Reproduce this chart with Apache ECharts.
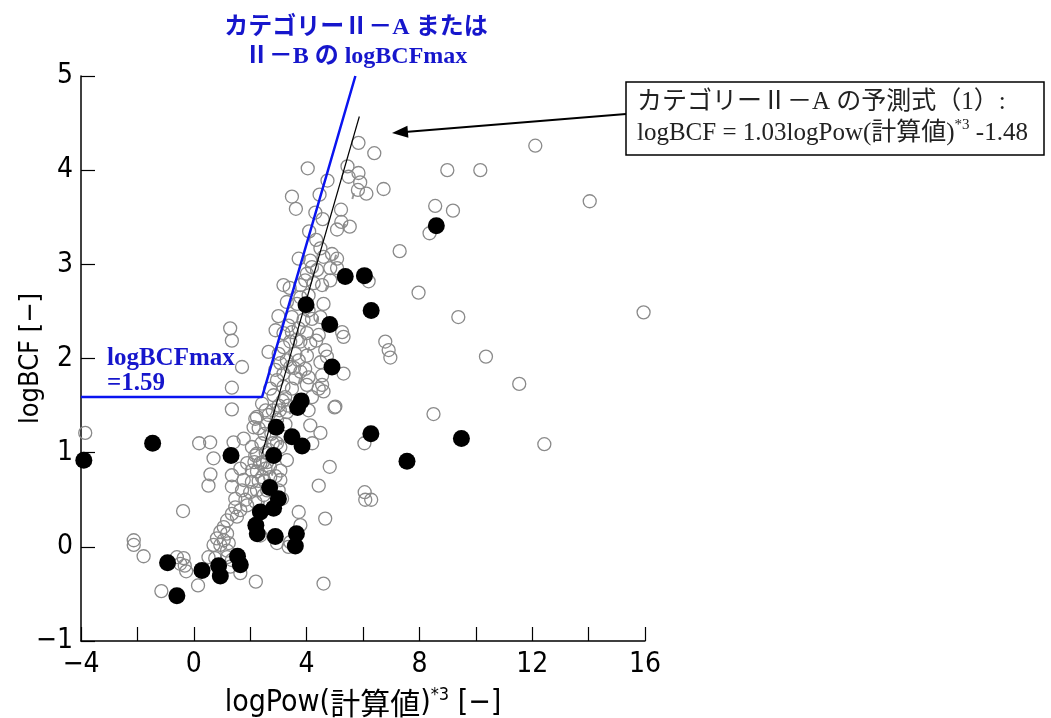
<!DOCTYPE html>
<html><head><meta charset="utf-8">
<script src="https://cdn.jsdelivr.net/npm/echarts@6/dist/echarts.min.js"></script>
<style>html,body{margin:0;padding:0;background:#fff}#c{width:1051px;height:718px}</style>
</head><body><div id="c"></div>
<script>
// ---- data ----
const xTicksMin = -4, xTicksMax = 16, xInterval = 2;
const yTicksMin = -1, yTicksMax = 5, yInterval = 1;

// hollow grey circles: [logPow, logBCF]
const hollowPoints = [
 [12.11,4.26],[8.99,4.00],[10.16,4.00],[8.56,3.62],[9.19,3.57],[8.36,3.33],[14.04,3.67],[7.30,3.14],[7.97,2.70],[9.38,2.44],[15.95,2.49],[10.36,2.02],[11.54,1.73],[8.50,1.41],[12.43,1.09],
 [5.84,4.29],[6.40,4.18],[4.04,4.02],[5.45,4.04],[5.49,3.93],[5.84,3.97],[5.90,3.87],[5.82,3.79],[6.12,3.75],[6.73,3.80],[4.74,3.89],[3.48,3.72],[3.62,3.59],[4.46,3.74],[4.31,3.55],[4.57,3.48],[5.22,3.58],[5.23,3.45],[5.53,3.40],[5.08,3.37],[4.09,3.35],[4.34,3.26],[3.72,3.06],[4.13,3.04],[4.49,3.17],[4.90,3.11],[5.08,3.06],[4.60,3.08],[4.19,2.97],[4.84,2.96],[5.08,2.96],[4.37,2.94],[4.01,2.90],
 [6.20,2.82],[6.79,2.18],[6.91,2.09],[6.97,2.01],
 [3.18,2.78],[3.78,2.78],[3.95,2.83],[4.25,2.80],[4.84,2.83],[4.55,2.78],[4.07,2.67],[3.78,2.65],[3.66,2.58],[4.07,2.51],[4.60,2.58],[4.49,2.44],[4.19,2.42],[3.89,2.41],[3.48,2.44],[3.36,2.35],[3.18,2.27],[3.48,2.28],[3.72,2.32],[4.01,2.27],[4.43,2.25],[5.26,2.28],[5.31,2.23],[4.34,2.19],[4.13,2.16],[3.78,2.18],[3.42,2.18],[3.18,2.12],[2.65,2.07],[3.01,2.05],[3.60,2.05],[4.01,2.03],[4.66,2.09],[4.72,2.02],[4.49,1.96],[3.30,1.98],[3.72,1.98],[3.07,1.95],[3.42,1.91],[3.95,1.89],[2.89,1.88],[3.18,1.84],[3.78,1.86],[3.60,1.79],[4.07,1.80],[4.55,1.82],[4.55,1.72],[5.31,1.84],[2.95,1.77],[2.71,1.68],[3.18,1.70],[3.48,1.68],[4.01,1.72],[4.43,1.68],[2.83,1.61],[3.24,1.59],[4.19,1.59],[5.02,1.49],[2.42,1.52],[3.01,1.50],[4.07,1.45],[3.30,1.43],[2.24,1.38],[2.65,1.40],
 [1.29,2.32],[1.35,2.19],[1.35,1.69],[1.35,1.46],[1.71,1.91],
 [2.50,1.20],[2.60,1.30],[2.75,1.20],[2.80,1.45],[2.55,1.45],[2.95,1.35],[3.05,1.45],[3.15,1.55],[3.25,1.30],[3.35,1.50],[2.40,1.10],[2.55,1.00],[2.45,0.90],[2.60,0.90],[2.70,0.85],[2.80,1.10],[2.50,0.70],[2.30,0.70],[2.15,0.90],[2.95,1.10],[2.60,0.60],[2.90,0.75],[3.55,1.90],[3.65,2.20],[2.90,2.30],[3.00,2.45],[3.30,2.60],[3.40,2.75],
 [-3.85,1.21],[-2.13,0.07],[-2.13,0.02],[-1.78,-0.10],[-0.38,0.38],[0.19,1.10],[0.58,1.11],[0.70,0.94],[0.59,0.77],[0.52,0.65],[-0.60,-0.11],[-0.27,-0.26],[-0.32,-0.20],[-1.15,-0.47],[0.15,-0.41],[1.65,-0.28],[2.20,-0.37],
 [1.41,1.11],[1.77,1.15],[2.18,1.36],[2.30,1.26],[2.06,1.06],[2.18,0.97],[1.89,0.89],[1.65,0.83],[2.36,0.89],[2.24,0.80],[2.54,0.83],[2.65,1.03],[3.07,1.06],[3.30,0.92],[3.07,0.81],[3.07,0.71],[2.71,0.74],[2.42,0.74],[2.06,0.69],[1.77,0.71],[1.35,0.76],[1.35,0.64],[1.71,0.60],[2.00,0.58],[2.24,0.60],[2.48,0.55],[1.47,0.51],[1.83,0.50],[2.18,0.48],[1.47,0.42],[1.65,0.39],[1.89,0.44],[1.35,0.35],[1.53,0.32],[1.18,0.28],[1.06,0.21],[0.94,0.16],[1.18,0.14],[0.82,0.09],[1.06,0.07],[0.94,0.02],[0.70,0.02],[1.24,0.04],[1.18,-0.04],[0.52,-0.11],[0.76,-0.12],[1.35,-0.14],[-0.36,-0.12],[-0.48,-0.18],[3.72,0.37],[3.78,0.23],[3.42,0.05],[2.95,0.04],[2.36,0.12],[4.43,0.65],[4.66,0.30],[4.49,1.21],[4.82,0.85],[3.01,0.60],[3.13,0.51],
 [1.30,-0.21],[2.12,1.27],[2.06,0.81],[2.24,0.99],[1.18,-0.11],
 [4.99,1.48],[6.05,1.10],[6.06,0.58],[6.08,0.50],[6.29,0.50],[3.36,0.00],[4.60,-0.39],[4.60,1.65],[4.13,1.29],[4.20,1.10]
];

// filled black circles: [logPow, logBCF]
const filledPoints = [
 [-3.90,0.92],[-1.46,1.10],[1.32,0.97],[-0.93,-0.17],[-0.60,-0.52],[0.29,-0.25],[0.88,-0.20],[0.94,-0.31],[1.55,-0.10],[1.65,-0.19],
 [2.20,0.23],[2.25,0.14],[2.36,0.37],[2.83,0.41],[3.00,0.51],[2.69,0.63],[2.89,0.11],[3.64,0.14],[3.60,0.01],[2.83,0.97],
 [2.92,1.27],[3.48,1.17],[3.84,1.07],[3.68,1.48],[3.81,1.55],[4.90,1.91],[4.82,2.36],[3.98,2.57],[5.37,2.87],[6.05,2.88],
 [6.29,2.51],[6.28,1.20],[7.56,0.91],[9.49,1.15],[8.60,3.41]
];

// blue logBCFmax boundary (category II-A / II-B)
const blueLineX = [-4, 2.42, 5.73];
const blueLineY = [1.59, 1.59, 5.00];
// black prediction line (1): logBCF = 1.03 logPow - 1.48 (end points)
const predLineX = [2.42, 5.87];
const predLineY = [0.99, 4.57];
// grey dashed guide line
const dashLineX = [2.45, 5.90];
const dashLineY = [0.43, 3.98];

const zip = (a, b) => a.map((v, i) => [v, b[i]]);

const narrow = "'Liberation Sans Narrow','DejaVu Sans Condensed','Liberation Sans',sans-serif";
const cjk = "'Noto Sans CJK JP',sans-serif";

const chart = echarts.init(document.getElementById('c'), null, {renderer: 'canvas'});
chart.setOption({
  animation: false,
  backgroundColor: '#fff',
  grid: {left: 81, right: 406, top: 76, bottom: 77, containLabel: false, outerBoundsMode: 'none'},
  xAxis: {
    type: 'value', min: xTicksMin, max: xTicksMax, interval: xInterval,
    axisLine: {show: true, onZero: false, lineStyle: {color: '#000', width: 1.5}},
    axisTick: {show: true, inside: true, length: 14, lineStyle: {color: '#000', width: 1.2}},
    splitLine: {show: false},
    axisLabel: {
      color: '#000', fontSize: 28, fontFamily: narrow, margin: 10,
      formatter: v => (v % 4 === 0 ? String(v).replace('-', '−') : '')
    },
    name: '{a|logPow(}{c|計算値}{a|)}{s|*3}{a| [−]}',
    nameLocation: 'middle', nameGap: 45, nameMoveOverlap: false,
    nameTextStyle: {
      rich: {
        a: {fontSize: 30, fontFamily: narrow, color: '#000', lineHeight: 34},
        c: {fontSize: 30, fontFamily: cjk, color: '#000', lineHeight: 34},
        s: {fontSize: 18, fontFamily: narrow, color: '#000', verticalAlign: 'top', lineHeight: 34}
      }
    }
  },
  yAxis: {
    type: 'value', min: yTicksMin, max: yTicksMax, interval: yInterval,
    axisLine: {show: true, onZero: false, lineStyle: {color: '#000', width: 1.5}},
    axisTick: {show: true, inside: true, length: 14, lineStyle: {color: '#000', width: 1.2}},
    splitLine: {show: false},
    axisLabel: {
      color: '#000', fontSize: 28, fontFamily: narrow, margin: 8,
      formatter: v => String(v).replace('-', '−')
    },
    name: 'logBCF [−]', nameLocation: 'middle', nameGap: 37, nameRotate: 90, nameMoveOverlap: false,
    nameTextStyle: {fontSize: 27, fontFamily: narrow, color: '#000'}
  },
  series: [
    {
      type: 'scatter', data: hollowPoints, symbol: 'circle', symbolSize: 13, z: 2,
      itemStyle: {color: 'rgba(0,0,0,0)', borderColor: '#8a8a8a', borderWidth: 1.3, opacity: 1},
      silent: true
    },
    {
      type: 'line', data: zip(dashLineX, dashLineY), symbol: 'none', z: 1,
      lineStyle: {color: '#999', width: 2, type: [6, 26]}, silent: true
    },
    {
      type: 'line', data: zip(predLineX, predLineY), symbol: 'none', z: 3,
      lineStyle: {color: '#000', width: 1.2}, silent: true
    },
    {
      type: 'line', data: zip(blueLineX, blueLineY), symbol: 'none', z: 3,
      lineStyle: {color: '#0a14f0', width: 2.5}, silent: true
    },
    {
      type: 'scatter', data: filledPoints, symbol: 'circle', symbolSize: 17, z: 4,
      itemStyle: {color: '#000', opacity: 1}, silent: true
    }
  ],
  graphic: [
    {type: 'text', x: 356, y: 13, z: 10,
     style: {text: 'カテゴリーⅡ－A または\nⅡ－B の logBCFmax', align: 'center', verticalAlign: 'top',
       font: "bold 24px 'Liberation Serif','Noto Sans CJK JP',serif", fill: '#1616cc', lineHeight: 29}},
    {type: 'text', x: 107, y: 346, z: 10,
     style: {text: 'logBCFmax\n=1.59', align: 'left', verticalAlign: 'top',
       font: "bold 25px 'Liberation Serif','DejaVu Serif',serif", fill: '#1616cc', lineHeight: 25}},
    {type: 'line', z: 10, shape: {x1: 626, y1: 114, x2: 405, y2: 132}, style: {stroke: '#000', lineWidth: 2}},
    {type: 'polygon', z: 10, shape: {points: [[392, 133], [408.4, 137.7], [407.4, 125.7]]}, style: {fill: '#000'}},
    {type: 'rect', z: 10, shape: {x: 626, y: 82, width: 418, height: 73}, style: {fill: '#fff', stroke: '#000', lineWidth: 1.5}},
    {type: 'text', x: 637, y: 87, z: 11,
     style: {text: '{c|カテゴリーⅡ－A の予測式（1）:}\n{c|logBCF = 1.03logPow(計算値)}{s|*3}{c| -1.48}',
       align: 'left', verticalAlign: 'top',
       rich: {
         c: {font: "25px 'Liberation Serif','Noto Sans CJK JP',serif", fill: '#222', lineHeight: 31},
         s: {font: "15px 'Liberation Serif',serif", fill: '#222', lineHeight: 31, verticalAlign: 'top'}
       }}}
  ]
});
</script>
</body></html>
